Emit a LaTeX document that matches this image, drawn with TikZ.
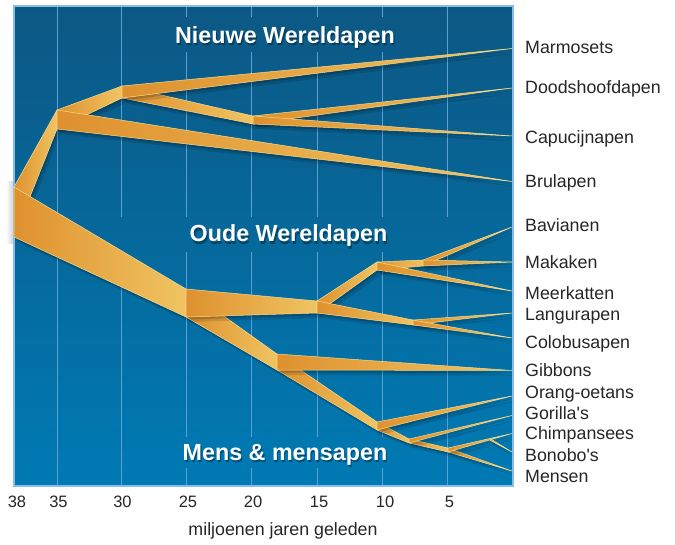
\documentclass[tikz,border=0pt]{standalone}
\usepackage{fontspec}
\setmainfont{Liberation Sans}[Ligatures=TeXOff]

\definecolor{bgtop}{RGB}{12,88,132}
\definecolor{bgbot}{RGB}{0,122,180}
\definecolor{gridblue}{RGB}{90,160,215}
\definecolor{frameblue}{RGB}{134,190,232}
\definecolor{banddark}{RGB}{222,145,46}
\definecolor{bandlight}{RGB}{240,196,98}
\definecolor{bandedge}{RGB}{250,218,140}

\begin{document}
\begin{tikzpicture}[x=1pt,y=-1pt,
  band/.style={left color=banddark,right color=bandlight,draw=bandedge,line width=.5pt,line join=round,
    preaction={fill=black,opacity=.16,transform canvas={shift={(1.5pt,-2.5pt)}}},
    preaction={fill=black,opacity=.12,transform canvas={shift={(3.5pt,-5pt)}}}},
  gridline/.style={draw=gridblue,line width=1pt},
  species/.style={anchor=base west,inner sep=0pt,font=\fontsize{17.8}{20}\selectfont,text=black!85},
  year/.style={anchor=base,font=\fontsize{16.5}{19}\selectfont,text=black!85},
  group/.style={anchor=base,font=\bfseries\fontsize{23.3}{26}\selectfont,text=white}]
  \useasboundingbox (0,0) rectangle (675,545);
  \fill[white] (0,0) rectangle (675,545);

  % panel
  \shade[left color=white,right color=black!20] (6,182) rectangle (14,244);
  \shade[top color=bgtop,bottom color=bgbot] (14,6) rectangle (513,486);
  \foreach \x in {57,121}
    \draw[gridline] (\x,7) -- (\x,217) (\x,252) -- (\x,486);
  \foreach \x in {186,251,317,382}
    \draw[gridline] (\x,7) -- (\x,17) (\x,52) -- (\x,217) (\x,252) -- (\x,437) (\x,468) -- (\x,486);
  \draw[gridline] (447,7) -- (447,217) (447,252) -- (447,486);
  \draw[frameblue,line width=1.2pt] (14,6) rectangle (513,486);

  % branch points
  \coordinate (n38t) at (14,187);   \coordinate (n38b) at (14,237);
  \coordinate (n35t) at (57,110);   \coordinate (n35b) at (57,129);
  \coordinate (n30t) at (122,86);   \coordinate (n30b) at (122,98);
  \coordinate (n20t) at (253,116);  \coordinate (n20b) at (253,124);
  \coordinate (n25t) at (186,289);  \coordinate (n25b) at (186,317);
  \coordinate (n15t) at (317,301);  \coordinate (n15b) at (317,313);
  \coordinate (cerct) at (377,262); \coordinate (cercb) at (377,270);
  \coordinate (papt) at (423,260);  \coordinate (papb) at (423,266);
  \coordinate (colt) at (413,320);  \coordinate (colb) at (413,325);
  \coordinate (n18t) at (277,354);  \coordinate (n18b) at (277,370);
  \coordinate (homt) at (377,422);  \coordinate (homb) at (377,430);
  \coordinate (hnnt) at (409,439);  \coordinate (hnnb) at (409,443);
  \coordinate (hint) at (448,448);  \coordinate (hinb) at (448,452);
  \coordinate (pant) at (490,438.5);\coordinate (panb) at (490,440.2);

  % tips
  \foreach \tip/\y in {marm/48.5,dood/88,capu/136,brul/181.5,bav/227,mak/262,meer/291,lang/313,
                       colo/338,gib/370.5,orang/396,gor/415.5,chimp/433.5,bono/452,mens/471}
    \coordinate (t-\tip) at (512,\y);

  % stems
  \path[band] (n38t) -- (n35t) -- (n35b) -- (n38b) -- cycle;
  \path[band] (n38t) -- (n25t) -- (n25b) -- (n38b) -- cycle;
  % new world
  \path[band] (n35t) -- (n30t) -- (n30b) -- (n35b) -- cycle;
  \path[band] (n35t) -- (t-brul) -- (n35b) -- cycle;
  \path[band] (n30t) -- (n20t) -- (n20b) -- (n30b) -- cycle;
  \path[band] (n30t) -- (t-marm) -- (n30b) -- cycle;
  \path[band] (n20t) -- (t-dood) -- (n20b) -- cycle;
  \path[band] (n20t) -- (t-capu) -- (n20b) -- cycle;
  % old world
  \path[band] (n25t) -- (n18t) -- (n18b) -- (n25b) -- cycle;
  \path[band] (n25t) -- (n15t) -- (n15b) -- (n25b) -- cycle;
  \path[band] (n15t) -- (cerct) -- (cercb) -- (n15b) -- cycle;
  \path[band] (n15t) -- (colt) -- (colb) -- (n15b) -- cycle;
  \path[band] (cerct) -- (papt) -- (papb) -- (cercb) -- cycle;
  \path[band] (cerct) -- (t-meer) -- (cercb) -- cycle;
  \path[band] (papt) -- (t-bav) -- (papb) -- cycle;
  \path[band] (papt) -- (t-mak) -- (papb) -- cycle;
  \path[band] (colt) -- (t-lang) -- (colb) -- cycle;
  \path[band] (colt) -- (t-colo) -- (colb) -- cycle;
  % apes
  \path[band] (n18t) -- (homt) -- (homb) -- (n18b) -- cycle;
  \path[band] (n18t) -- (t-gib) -- (n18b) -- cycle;
  \path[band] (homt) -- (hnnt) -- (hnnb) -- (homb) -- cycle;
  \path[band] (homt) -- (t-orang) -- (homb) -- cycle;
  \path[band] (hnnt) -- (hint) -- (hinb) -- (hnnb) -- cycle;
  \path[band] (hnnt) -- (t-gor) -- (hnnb) -- cycle;
  \path[band] (hint) -- (t-mens) -- (hinb) -- cycle;
  \path[band] (hint) -- (t-chimp) -- (hinb) -- cycle;
  \path[band] (pant) -- (t-bono) -- (panb) -- cycle;

  % group titles
  \foreach \name/\x/\y/\txt in {nw/285/43.3/Nieuwe Wereldapen,ow/288.5/242/Oude Wereldapen,mm/285/460/Mens \& mensapen}{
    \node[group,text=black,text opacity=.35] at (\x+1.2,\y+2.5) {\txt};
    \node[group] (\name) at (\x,\y) {\txt};
  }

  % species
  \foreach \name/\y/\txt in {marmosets/53.3/Marmosets,doodshoofdapen/93.3/Doodshoofdapen,
      capucijnapen/143.3/Capucijnapen,brulapen/187.3/Brulapen,bavianen/231.7/Bavianen,
      makaken/268.3/Makaken,meerkatten/299.3/Meerkatten,langurapen/320.7/Langurapen,
      colobusapen/348.3/Colobusapen,gibbons/376.7/Gibbons,orangoetans/398.3/Orang-oetans,
      gorillas/420/Gorilla's,chimpansees/439.3/Chimpansees,bonobos/461.7/Bonobo's,mensen/482.3/Mensen}
    \node[species] (\name) at (525,\y) {\txt};

  % time axis
  \foreach \x/\yr in {17/38,58.5/35,122.5/30,188/25,253/20,319/15,385/10,449.5/5}
    \node[year] (y\yr) at (\x,507) {\yr};
  \node[anchor=base,font=\fontsize{17.8}{20}\selectfont,text=black!85] (axis) at (283,535) {miljoenen jaren geleden};
\end{tikzpicture}
\end{document}
